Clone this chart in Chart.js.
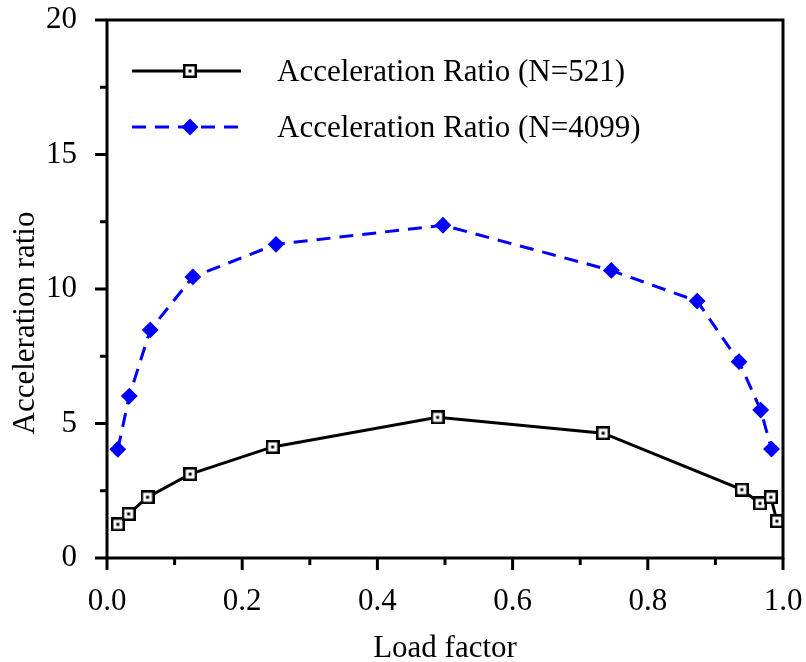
<!DOCTYPE html>
<html>
<head>
<meta charset="utf-8">
<script src="https://cdn.jsdelivr.net/npm/chart.js@4"></script>
<style>
  html, body { margin: 0; padding: 0; background: #fff; }
  #wrap { width: 806px; height: 662px; }
</style>
</head>
<body>
<div id="wrap"><canvas id="grafico" width="806" height="662"></canvas></div>
<script>
// dados
const loadN521 = [0.016, 0.032, 0.060, 0.123, 0.245, 0.489, 0.734, 0.939, 0.966, 0.982, 0.991];
const ratioN521 = [1.25, 1.64, 2.26, 3.12, 4.13, 5.23, 4.64, 2.54, 2.03, 2.26, 1.37];
const loadN4099 = [0.016, 0.033, 0.064, 0.127, 0.250, 0.497, 0.746, 0.873, 0.935, 0.967, 0.983];
const ratioN4099 = [4.04, 6.02, 8.48, 10.45, 11.66, 12.37, 10.69, 9.55, 7.30, 5.50, 4.05];
const xTicks = ["0.0", "0.2", "0.4", "0.6", "0.8", "1.0"];
const yTicks = ["0", "5", "10", "15", "20"];
const nomes = ["Acceleration Ratio (N=521)", "Acceleration Ratio (N=4099)"];

const fonte = "'Liberation Serif', 'Times New Roman', serif";

// marcador quadrado com ponto no meio
function quadrado() {
  const c = document.createElement("canvas");
  c.width = 14; c.height = 14;
  const g = c.getContext("2d");
  g.fillStyle = "#fff";
  g.fillRect(0, 0, 14, 14);
  g.strokeStyle = "#000";
  g.lineWidth = 2.5;
  g.strokeRect(1.25, 1.25, 11.5, 11.5);
  g.fillStyle = "#000";
  g.fillRect(5.5, 5.5, 3, 3);
  return c;
}
const marcador = quadrado();

function pontos(xs, ys) {
  return xs.map((x, i) => ({ x: x, y: ys[i] }));
}

// tira o espaço extra que o Chart.js reserva para os rótulos das pontas
function semSobra(s) {
  s.paddingLeft = 0; s.paddingRight = 0;
  s.paddingTop = 0; s.paddingBottom = 0;
}

const eixosPlugin = {
  id: "eixos",
  afterDraw(chart) {
    const ctx = chart.ctx;
    const a = chart.chartArea;
    const sx = chart.scales.x, sy = chart.scales.y;
    ctx.save();
    ctx.strokeStyle = "#000";
    ctx.lineWidth = 3;
    ctx.strokeRect(a.left, a.top, a.right - a.left, a.bottom - a.top);
    sx.ticks.forEach((t, i) => {
      const px = sx.getPixelForTick(i);
      const maior = Math.round(t.value * 10) % 2 === 0;
      ctx.beginPath();
      ctx.moveTo(px, a.bottom);
      ctx.lineTo(px, a.bottom + (maior ? 12 : 7));
      ctx.stroke();
    });
    sy.ticks.forEach((t, i) => {
      const py = sy.getPixelForTick(i);
      const maior = Math.round(t.value * 10) % 50 === 0;
      ctx.beginPath();
      ctx.moveTo(a.left, py);
      ctx.lineTo(a.left - (maior ? 12 : 7), py);
      ctx.stroke();
    });

    // titulos dos eixos
    ctx.fillStyle = "#000";
    ctx.font = "31px " + fonte;
    ctx.textAlign = "center";
    ctx.textBaseline = "alphabetic";
    ctx.fillText("Load factor", (a.left + a.right) / 2, 657);
    ctx.translate(34, 323);
    ctx.rotate(-Math.PI / 2);
    ctx.fillText("Acceleration ratio", 0, 0);
    ctx.restore();

    // legenda
    ctx.save();
    const linhas = [71, 127];
    chart.data.datasets.forEach((ds, i) => {
      const y = linhas[i];
      ctx.strokeStyle = ds.borderColor;
      ctx.lineWidth = ds.borderWidth;
      ctx.setLineDash(ds.borderDash || []);
      ctx.beginPath();
      ctx.moveTo(132, y);
      ctx.lineTo(241, y);
      ctx.stroke();
      ctx.setLineDash([]);
      if (i === 0) {
        ctx.drawImage(marcador, 190 - 7, y - 7);
      } else {
        ctx.fillStyle = ds.pointBackgroundColor;
        ctx.strokeStyle = ds.pointBorderColor;
        ctx.lineWidth = 2;
        ctx.beginPath();
        ctx.moveTo(190 - 7, y);
        ctx.lineTo(190, y - 7);
        ctx.lineTo(190 + 7, y);
        ctx.lineTo(190, y + 7);
        ctx.closePath();
        ctx.fill();
        ctx.stroke();
      }
      ctx.fillStyle = "#000";
      ctx.font = "31px " + fonte;
      ctx.textAlign = "left";
      ctx.textBaseline = "middle";
      ctx.fillText(ds.label, 277, y + 2);
    });
    ctx.restore();
  }
};

new Chart(document.getElementById("grafico"), {
  type: "line",
  data: {
    datasets: [
      {
        label: nomes[0],
        data: pontos(loadN521, ratioN521),
        borderColor: "#000",
        borderWidth: 3,
        pointStyle: marcador,
        pointRadius: 7,
        tension: 0
      },
      {
        label: nomes[1],
        data: pontos(loadN4099, ratioN4099),
        borderColor: "#0000ff",
        borderWidth: 3,
        borderDash: [14, 9],
        pointStyle: "rectRot",
        pointRadius: 7,
        pointBackgroundColor: "#0000ff",
        pointBorderColor: "#0000ff",
        pointBorderWidth: 2,
        tension: 0
      }
    ]
  },
  options: {
    responsive: false,
    animation: false,
    events: [],
    layout: { padding: { top: 20, right: 23, left: 0, bottom: 0 } },
    plugins: { legend: { display: false }, tooltip: { enabled: false } },
    scales: {
      x: {
        type: "linear",
        min: 0,
        max: 1,
        afterFit: s => { s.height = 104; semSobra(s); },
        grid: { display: false },
        border: { display: false },
        ticks: {
          stepSize: 0.1,
          padding: 17,
          color: "#000",
          font: { family: fonte, size: 31 },
          maxRotation: 0,
          autoSkip: false,
          callback: v => {
            const k = Math.round(v * 10);
            return k % 2 === 0 ? xTicks[k / 2] : "";
          }
        }
      },
      y: {
        type: "linear",
        min: 0,
        max: 20,
        afterFit: s => { s.width = 107; semSobra(s); },
        grid: { display: false },
        border: { display: false },
        ticks: {
          stepSize: 2.5,
          padding: 22,
          color: "#000",
          font: { family: fonte, size: 31 },
          autoSkip: false,
          callback: v => {
            const k = Math.round(v * 10);
            return k % 50 === 0 ? yTicks[k / 50] : "";
          }
        }
      }
    }
  },
  plugins: [eixosPlugin]
});
</script>
</body>
</html>
